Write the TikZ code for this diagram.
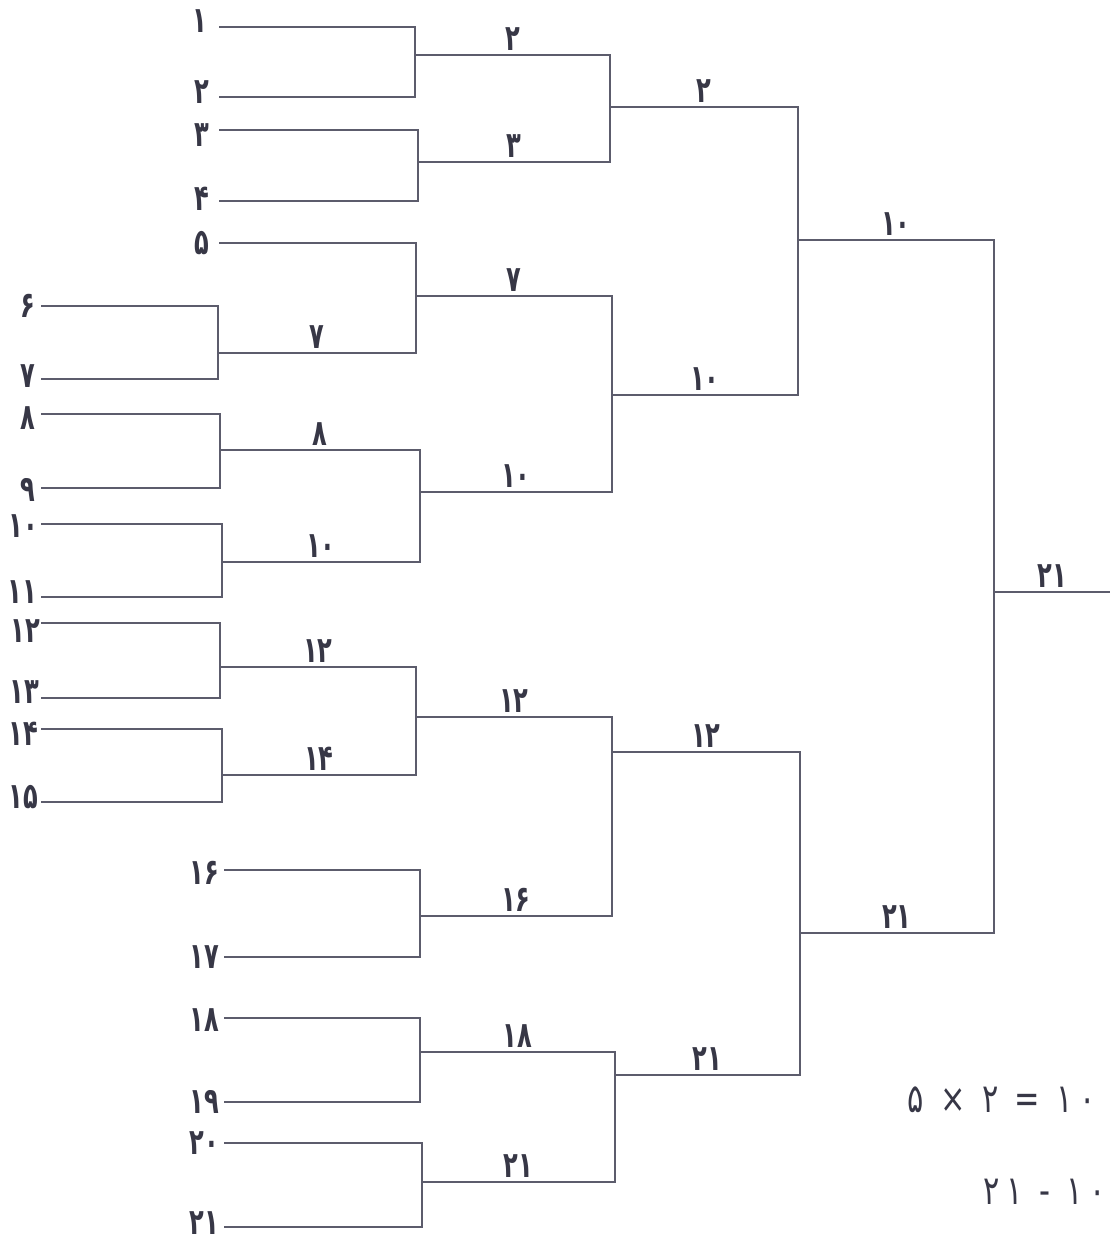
\documentclass[tikz,border=0pt]{standalone}
\usepackage{fontspec}
\newfontfamily\fadigits[FakeStretch=0.76]{DejaVu Sans}
\newfontfamily\fadigitsb[FakeStretch=0.67]{DejaVu Sans Bold}
\definecolor{lnc}{RGB}{92,92,108}
\definecolor{txc}{RGB}{55,55,70}
\tikzset{
  ln/.style={draw=lnc, line width=2.2pt, line cap=rect},
  seedlbl/.style={font=\fadigitsb\fontsize{36}{38}\selectfont, text=txc, inner sep=0pt, anchor=east},
  matchlbl/.style={font=\fadigitsb\fontsize{36}{38}\selectfont, text=txc, inner sep=0pt, anchor=south},
  eqlbl/.style={font=\fadigits\fontsize{40}{42}\selectfont, text=txc, inner sep=0pt}
}
\usetikzlibrary{calc}
% seed line: name, label, x1, x2, y, gap to label, vertical shift of label
\newcommand\seedln[7]{%
  \coordinate (#1a) at (#3,#5);
  \coordinate (#1b) at (#4,#5);
  \node[seedlbl] (#1l) at ([xshift=-#6pt,yshift=#7pt]#1a) {#2};
  \draw[ln] (#1a) -- (#1b);}
% match output line: name, label, x1, x2, y
\newcommand\matchln[5]{%
  \coordinate (#1a) at (#3,#5);
  \coordinate (#1b) at (#4,#5);
  \draw[ln] (#1a) -- (#1b);
  \node[matchlbl] (#1l) at ([yshift=4pt]$(#1a)!0.5!(#1b)$) {#2};}
\begin{document}
\begin{tikzpicture}[x=1pt,y=-1pt]
\useasboundingbox (0,0) rectangle (1110,1243);
% seeds
\seedln{s1}{۱}{220}{415}{27}{13}{6}
\seedln{s2}{۲}{220}{415}{97}{11}{5}
\seedln{s3}{۳}{220}{418}{130}{11}{-5}
\seedln{s4}{۴}{220}{418}{201}{11}{2}
\seedln{s5}{۵}{220}{416}{243}{11}{0}
\seedln{s6}{۶}{42}{218}{306}{7}{0}
\seedln{s7}{۷}{42}{218}{379}{7}{3}
\seedln{s8}{۸}{42}{220}{414}{7}{-4}
\seedln{s9}{۹}{42}{220}{488}{7}{-2}
\seedln{s10}{۱۰}{42}{222}{524}{4}{-2}
\seedln{s11}{۱۱}{42}{222}{597}{5}{5}
\seedln{s12}{۱۲}{42}{220}{623}{2}{-8}
\seedln{s13}{۱۳}{42}{220}{698}{3}{6}
\seedln{s14}{۱۴}{42}{222}{729}{4}{-5}
\seedln{s15}{۱۵}{42}{222}{802}{4}{5}
\seedln{s16}{۱۶}{225}{420}{870}{6}{-3}
\seedln{s17}{۱۷}{225}{420}{957}{6}{0}
\seedln{s18}{۱۸}{225}{420}{1018}{6}{-2}
\seedln{s19}{۱۹}{225}{420}{1102}{6}{0}
\seedln{s20}{۲۰}{225}{422}{1143}{6}{0}
\seedln{s21}{۲۱}{225}{422}{1227}{6}{4}
% matches
\matchln{m1}{۲}{415}{610}{55}
\matchln{m2}{۳}{418}{610}{162}
\matchln{m3}{۷}{218}{416}{353}
\matchln{m4}{۷}{416}{612}{296}
\matchln{m5}{۸}{220}{420}{450}
\matchln{m6}{۱۰}{222}{420}{562}
\matchln{m7}{۱۰}{420}{612}{492}
\matchln{m8}{۲}{610}{798}{107}
\matchln{m9}{۱۰}{612}{798}{395}
\matchln{m10}{۱۰}{798}{994}{240}
\matchln{m11}{۱۲}{220}{416}{667}
\matchln{m12}{۱۴}{222}{416}{775}
\matchln{m13}{۱۲}{416}{612}{717}
\matchln{m14}{۱۶}{420}{612}{916}
\matchln{m15}{۱۲}{612}{800}{752}
\matchln{m16}{۱۸}{420}{615}{1052}
\matchln{m17}{۲۱}{422}{615}{1182}
\matchln{m18}{۲۱}{615}{800}{1075}
\matchln{m19}{۲۱}{800}{994}{933}
\matchln{m20}{۲۱}{994}{1110}{592}
% verticals
\draw[ln] (s1b) -- (s2b);
\draw[ln] (s3b) -- (s4b);
\draw[ln] (s6b) -- (s7b);
\draw[ln] (s5b) -- (m3b);
\draw[ln] (s8b) -- (s9b);
\draw[ln] (s10b) -- (s11b);
\draw[ln] (m5b) -- (m6b);
\draw[ln] (m1b) -- (m2b);
\draw[ln] (m4b) -- (m7b);
\draw[ln] (m8b) -- (m9b);
\draw[ln] (s12b) -- (s13b);
\draw[ln] (s14b) -- (s15b);
\draw[ln] (m11b) -- (m12b);
\draw[ln] (s16b) -- (s17b);
\draw[ln] (m13b) -- (m14b);
\draw[ln] (s18b) -- (s19b);
\draw[ln] (s20b) -- (s21b);
\draw[ln] (m16b) -- (m17b);
\draw[ln] (m15b) -- (m18b);
\draw[ln] (m10b) -- (m19b);
% equations (set in the visual left-to-right order of the reference)
\node[eqlbl, anchor=east] (eq1) at (1096,1100) {۵ \,×\, ۲ \,=\, ۱\,۰};
\node[eqlbl, anchor=east] (eq2) at (1106,1192) {۲\,۱ \,-\, ۱\,۰};
\end{tikzpicture}
\end{document}
